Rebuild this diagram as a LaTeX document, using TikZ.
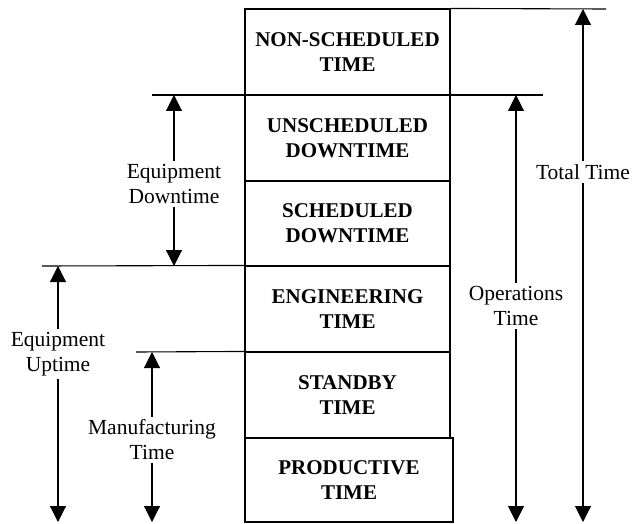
\documentclass[tikz,border=0pt]{standalone}
\usepackage{fontspec}
\setmainfont{Liberation Serif}
\usetikzlibrary{arrows.meta}

\tikzset{
  tbox/.style={draw,line width=1.1pt,minimum width=205pt,minimum height=86pt,
    inner sep=0pt,align=center,font=\fontsize{21}{25}\selectfont\bfseries},
  tlabel/.style={align=center,inner sep=3pt,font=\fontsize{21.5}{25}\selectfont},
  level/.style={line width=1.1pt},
  span/.style={line width=1.1pt,-{Triangle[width=16pt,length=16pt]}}
}

\begin{document}
\begin{tikzpicture}[x=1pt,y=-1pt]
  \useasboundingbox (0,0) rectangle (634,524);

  %stack of time blocks
  \node[tbox] (nonsched) at (347.5,52) {NON-SCHEDULED\\TIME};
  \node[tbox] (unsched) at (347.5,138) {UNSCHEDULED\\DOWNTIME};
  \node[tbox] (sched) at (347.5,223.5) {SCHEDULED\\DOWNTIME};
  \node[tbox] (eng) at (347.5,309) {ENGINEERING\\TIME};
  \node[tbox] (standby) at (347.5,395) {STANDBY\\TIME};
  \node[tbox,minimum width=208pt,minimum height=84pt] (prod) at (349,480) {PRODUCTIVE\\TIME};

  %level lines
  \coordinate (top r) at (606,9);
  \coordinate (ops l) at (152,95);
  \coordinate (ops r) at (543,95);
  \coordinate (up l) at (42,266);
  \coordinate (mfg l) at (136,352);
  \draw[level] (nonsched.north east) -- (top r);
  \draw[level] (ops l) -- (ops r);
  \draw[level] (up l) -- (eng.north west);
  \draw[level] (mfg l) -- (standby.north west);

  %arrow ends
  \coordinate (total t) at (583,9);
  \coordinate (total b) at (583,522);
  \coordinate (ops t) at (516,95);
  \coordinate (ops b) at (516,522);
  \coordinate (eqdown t) at (174,95);
  \coordinate (eqdown b) at (174,266);
  \coordinate (equp t) at (58,266);
  \coordinate (equp b) at (58,522);
  \coordinate (mfg t) at (152,352);
  \coordinate (mfg b) at (152,522);

  %spans with their labels
  \node[tlabel] (total) at (583,172) {Total Time};
  \node[tlabel] (ops) at (516,306) {Operations\\Time};
  \node[tlabel] (eqdown) at (174,184) {Equipment\\Downtime};
  \node[tlabel] (equp) at (58,354) {Equipment\\Uptime};
  \node[tlabel] (mfg) at (152,440) {Manufacturing\\Time};
  \foreach \s in {total,ops,eqdown,equp,mfg} {
    \draw[span] (\s) -- (\s\space t);
    \draw[span] (\s) -- (\s\space b);
  }
\end{tikzpicture}
\end{document}
